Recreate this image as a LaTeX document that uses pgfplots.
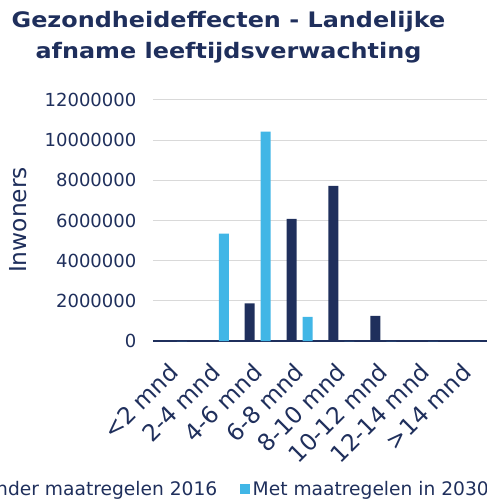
\documentclass[border=0pt]{standalone}
\usepackage{pgfplots}
\pgfplotsset{compat=1.18}
\usepackage{fontspec}
\setmainfont{DejaVu Sans}
\newfontfamily\titlefont[FakeStretch=1.12]{DejaVu Sans}
\definecolor{navy}{HTML}{1F2F5C}
\definecolor{lblue}{HTML}{41B6E6}
\definecolor{gridc}{HTML}{D9D9D9}
\begin{document}
\begin{tikzpicture}
\begin{axis}[
  at={(0,0)}, anchor=south west,
  scale only axis, width=251.25pt, height=180.75pt,
  xmin=-0.5, xmax=7.5, ymin=0, ymax=12000000,
  ybar=4.5pt, bar width=7.5pt,
  xtick={0,...,7},
  xticklabels={{<2 mnd},{2-4 mnd},{4-6 mnd},{6-8 mnd},{8-10 mnd},{10-12 mnd},{12-14 mnd},{>14 mnd}},
  ytick={0,2000000,4000000,6000000,8000000,10000000,12000000},
  scaled y ticks=false,
  ymajorgrids, grid style={gridc, line width=0.75pt},
  axis x line*=bottom, axis y line*=left,
  x axis line style={-, navy, line width=1.5pt},
  y axis line style={draw=none},
  major tick length=0pt,
  tick label style={font=\fontsize{13.5}{16}\selectfont, text=navy},
  yticklabel style={/pgf/number format/fixed, /pgf/number format/1000 sep={}, /pgf/number format/assume math mode=true, xshift=-9pt},
  xticklabel style={font=\fontsize{17.5}{20}\selectfont, xshift=4.5pt, yshift=-24.75pt, rotate=45, anchor=base east, inner sep=0pt},
  ylabel={Inwoners},
  ylabel style={at={(axis description cs:-0.403,0.502)}, anchor=center, font=\fontsize{17.5}{20}\selectfont, text=navy},
  legend columns=2,
  legend style={draw=none, fill=none, inner sep=0pt, at={(axis description cs:-0.579,-0.614)}, anchor=west,
    font=\fontsize{14}{16}\selectfont, text=navy,
    /tikz/every even column/.append style={column sep=15pt}},
  legend image code/.code={\fill[#1] (0pt,-3.75pt) rectangle (7.5pt,3.75pt);},
]
\addplot[fill=navy, draw=none] coordinates {(0,0) (1,0) (2,1870000) (3,6080000) (4,7730000) (5,1250000) (6,30000) (7,0)};
\addplot[fill=lblue, draw=none] coordinates {(0,0) (1,5350000) (2,10430000) (3,1200000) (4,0) (5,0) (6,0) (7,0)};
\legend{Zonder maatregelen 2016, Met maatregelen in 2030}
\end{axis}
\node[font=\titlefont\bfseries\fontsize{16}{23.25}\selectfont, text=navy, align=center] at (56.6pt,228pt) {Gezondheideffecten - Landelijke\\afname leeftijdsverwachting};
\pgfresetboundingbox
\path (-114.75pt,-118.5pt) rectangle (249.75pt,255.75pt);
\end{tikzpicture}
\end{document}
